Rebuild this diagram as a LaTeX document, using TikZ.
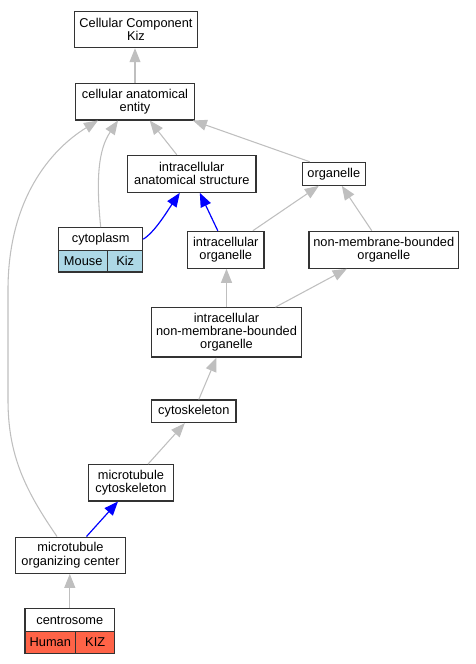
\documentclass[tikz,border=0pt]{standalone}
\usepackage{fontspec}
\setmainfont{Liberation Sans}
\usetikzlibrary{arrows.meta,calc}
\definecolor{lightblue}{HTML}{ADD8E6}
\definecolor{tomato}{HTML}{FF6347}

\begin{document}
\begin{tikzpicture}[x=0.75pt, y=-0.75pt,
  term/.style={draw=black!80, line width=0.8pt, fill=white, align=center,
    inner sep=0pt, font=\fontsize{9.6}{9.8}\selectfont},
  isa/.style={color=black!25, line width=0.8pt,
    -{Triangle[length=10.5pt,width=8.25pt]}},
  partof/.style={color=blue, line width=0.9pt,
    -{Triangle[length=10.5pt,width=8.25pt]}}]
  \useasboundingbox (0,0) rectangle (475,664);

  % terms
  \node [term, minimum width=92pt, minimum height=27pt] (cck) at (136,29.7)
    {Cellular Component\\Kiz};
  \node [term, minimum width=89pt, minimum height=27.25pt] (cae) at (135,101.8)
    {cellular anatomical\\entity};
  \node [term, minimum width=96.25pt, minimum height=27.75pt] (ias) at (191.8,173.8)
    {intracellular\\anatomical structure};
  \node [term, minimum width=47.25pt, minimum height=17.25pt] (org) at (333.8,173.8)
    {organelle};
  \node [term, minimum width=57.25pt, minimum height=27.75pt] (io) at (225.8,249.8)
    {intracellular\\organelle};
  \node [term, minimum width=112.25pt, minimum height=27.75pt] (nmbo) at (383.8,249.8)
    {non-membrane-bounded\\organelle};
  \node [term, minimum width=112.25pt, minimum height=37pt] (inmbo) at (226.5,332.3)
    {intracellular\\non-membrane-bounded\\organelle};
  \node [term, minimum width=63.25pt, minimum height=17pt] (csk) at (193.8,411.3)
    {cytoskeleton};
  \node [term, minimum width=63.5pt, minimum height=27.25pt] (mtc) at (131,482.8)
    {microtubule\\cytoskeleton};
  \node [term, minimum width=82.25pt, minimum height=27.25pt] (moc) at (70.5,555.2)
    {microtubule\\organizing center};

  % annotated terms
  \node [term, minimum width=63pt, minimum height=17.25pt] (cyto) at (100.7,239.2)
    {cytoplasm};
  \node [term, fill=lightblue, minimum width=36.75pt, minimum height=16pt] (cytoMouse)
    at (83.2,261.3) {Mouse};
  \node [term, fill=lightblue, minimum width=26.25pt, minimum height=16pt] (cytoKiz)
    at (125.2,261.3) {Kiz};
  \node [term, minimum width=67.25pt, minimum height=17pt] (cent) at (69.8,620)
    {centrosome};
  \node [term, fill=tomato, minimum width=38pt, minimum height=16.25pt] (centHuman)
    at (50.3,642.2) {Human};
  \node [term, fill=tomato, minimum width=29.25pt, minimum height=16.25pt] (centKIZ)
    at (95.2,642.2) {KIZ};

  % is_a
  \draw [isa] (cae.north) -- (cae.north |- cck.south);
  \draw [isa] (ias) -- (cae);
  \draw [isa] ($(org.north)+(-24,0)$) -- ($(cae.south east)+(-2,0)$);
  \draw [isa] (cyto.north) .. controls (96,180) and (98,150) .. ($(cae.south)+(-17,0)$);
  \draw [isa] ($(moc.north)+(-13.5,0)$) .. controls (25,490) and (8,455) .. (8,400)
    -- (8,290) .. controls (8,200) and (50,150) .. ($(cae.south)+(-37,0)$);
  \draw [isa] ($(io.north)+(27,0)$) -- ($(org.south)+(-15,0)$);
  \draw [isa] ($(nmbo.north)+(-12,0)$) -- ($(org.south)+(8,0)$);
  \draw [isa] (inmbo.north) -- (inmbo.north |- io.south);
  \draw [isa] ($(inmbo.north)+(49,0)$) -- ($(nmbo.south)+(-37,0)$);
  \draw [isa] ($(csk.north)+(5,0)$) -- ($(inmbo.south)+(-10,0)$);
  \draw [isa] ($(mtc.north)+(17,0)$) -- ($(csk.south)+(-9,0)$);
  \draw [isa] (cent.north) -- (cent.north |- moc.south);

  % part_of
  \draw [partof] (cyto.east) .. controls (155,232) and (168,210) .. ($(ias.south)+(-12,0)$);
  \draw [partof] ($(io.north)+(-8,0)$) -- ($(ias.south)+(8,0)$);
  \draw [partof] ($(moc.north)+(16,0)$) -- ($(mtc.south)+(-13,0)$);
\end{tikzpicture}
\end{document}
